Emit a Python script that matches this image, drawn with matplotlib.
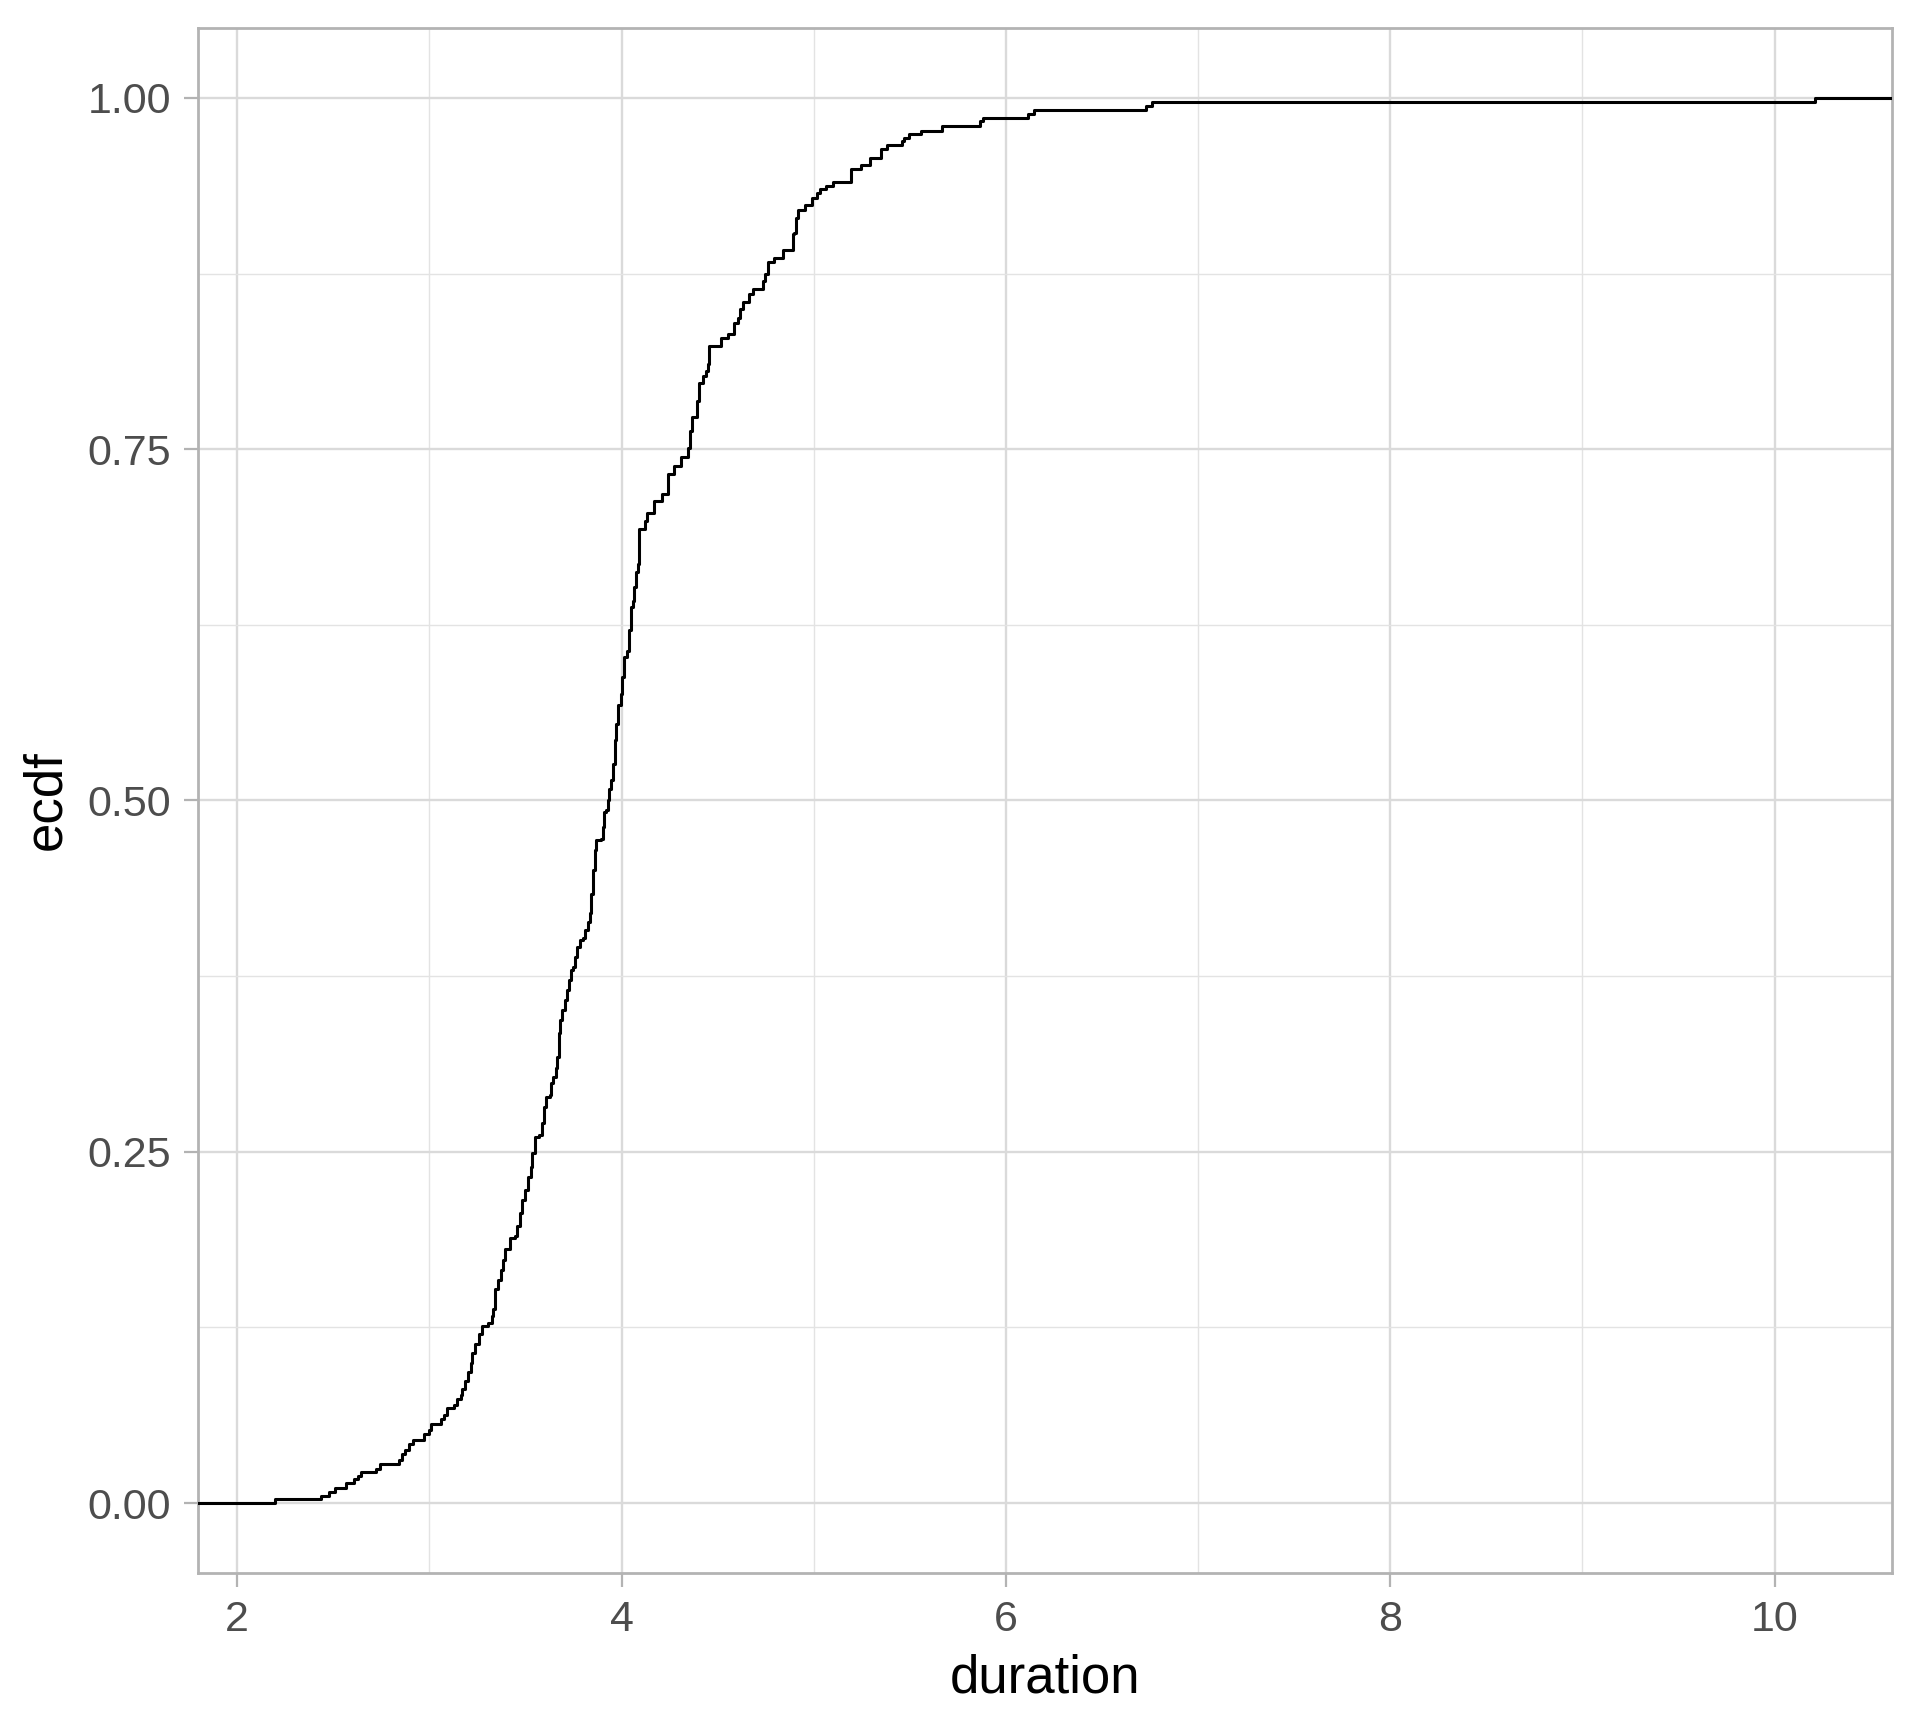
import numpy as np
import matplotlib
matplotlib.use("Agg")
import matplotlib.pyplot as plt
from matplotlib.ticker import MultipleLocator

plt.rcParams['font.family'] = ['Liberation Sans', 'DejaVu Sans']

# ECDF knots: at each duration the curve steps up to ecdf
duration = [
    2.195, 2.437, 2.476, 2.507, 2.565, 2.607, 2.626, 2.643, 2.723, 2.745,
    2.842, 2.856, 2.873, 2.891, 2.913, 2.972, 2.995, 3.008, 3.060, 3.076,
    3.090, 3.130, 3.142, 3.164, 3.171, 3.185, 3.199, 3.216, 3.223, 3.237,
    3.258, 3.275, 3.303, 3.323, 3.332, 3.341, 3.355, 3.372, 3.384, 3.393,
    3.419, 3.444, 3.453, 3.470, 3.483, 3.496, 3.514, 3.528, 3.535, 3.548,
    3.569, 3.587, 3.597, 3.609, 3.626, 3.635, 3.644, 3.656, 3.666, 3.673,
    3.678, 3.691, 3.704, 3.718, 3.725, 3.735, 3.748, 3.756, 3.768, 3.782,
    3.800, 3.808, 3.826, 3.834, 3.843, 3.851, 3.860, 3.869, 3.891, 3.903,
    3.909, 3.921, 3.929, 3.935, 3.947, 3.955, 3.964, 3.972, 3.981, 3.995,
    4.002, 4.012, 4.030, 4.036, 4.047, 4.059, 4.064, 4.076, 4.085, 4.090,
    4.123, 4.133, 4.166, 4.210, 4.241, 4.270, 4.310, 4.348, 4.358, 4.366,
    4.393, 4.405, 4.423, 4.440, 4.452, 4.457, 4.518, 4.556, 4.587, 4.604,
    4.618, 4.630, 4.661, 4.682, 4.734, 4.746, 4.760, 4.791, 4.838, 4.890,
    4.898, 4.907, 4.919, 4.954, 4.989, 5.016, 5.032, 5.063, 5.098, 5.193,
    5.245, 5.293, 5.348, 5.380, 5.461, 5.470, 5.495, 5.560, 5.669, 5.864,
    5.882, 6.113, 6.148, 6.730, 6.759, 10.21,
]
ecdf = [
    0.003, 0.005, 0.008, 0.011, 0.014, 0.017, 0.019, 0.022, 0.024, 0.028,
    0.031, 0.035, 0.038, 0.042, 0.045, 0.049, 0.052, 0.056, 0.060, 0.063,
    0.068, 0.070, 0.074, 0.077, 0.081, 0.087, 0.093, 0.100, 0.107, 0.113,
    0.120, 0.126, 0.128, 0.133, 0.138, 0.152, 0.159, 0.166, 0.173, 0.181,
    0.1886, 0.1898, 0.1969, 0.2064, 0.2158, 0.2230, 0.2324, 0.2395, 0.2490, 0.2608,
    0.2620, 0.2704, 0.2822, 0.2893, 0.2905, 0.2988, 0.3035, 0.3094, 0.3177, 0.3343,
    0.3438, 0.3509, 0.3580, 0.3651, 0.3722, 0.3793, 0.3817, 0.3888, 0.3959, 0.4006,
    0.4018, 0.4077, 0.4136, 0.4196, 0.4338, 0.4504, 0.4646, 0.4717, 0.4729, 0.4812,
    0.4918, 0.4930, 0.5001, 0.5085, 0.5144, 0.5262, 0.5428, 0.5546, 0.5677, 0.5760,
    0.5878, 0.6020, 0.6067, 0.6210, 0.6375, 0.6423, 0.6517, 0.6624, 0.6684, 0.6932,
    0.6990, 0.7043, 0.7129, 0.7181, 0.7323, 0.7382, 0.7441, 0.7512, 0.7631, 0.7726,
    0.7844, 0.7974, 0.8022, 0.8058, 0.8105, 0.8235, 0.8294, 0.8323, 0.8401, 0.8436,
    0.8496, 0.8550, 0.8603, 0.8638, 0.8697, 0.8745, 0.8834, 0.8859, 0.8915, 0.9029,
    0.9040, 0.9147, 0.9200, 0.9237, 0.9289, 0.9325, 0.9349, 0.9370, 0.9403, 0.9491,
    0.9521, 0.9574, 0.9633, 0.9664, 0.9692, 0.9716, 0.9744, 0.9768, 0.9799, 0.9834,
    0.9858, 0.9882, 0.9913, 0.9941, 0.9970, 1.0,
]

x_ticks = [2, 4, 6, 8, 10]
y_ticks = [0.0, 0.25, 0.5, 0.75, 1.0]
y_tick_labels = ["0.00", "0.25", "0.50", "0.75", "1.00"]

# ggplot style 5% expansion of the data range
span = max(duration) - min(duration)
x_lo = min(duration) - 0.05 * span
x_hi = max(duration) + 0.05 * span

# pad the step line out to the panel edges, like stat_ecdf(pad = TRUE)
xs = [x_lo] + duration + [x_hi]
ys = [0.0] + ecdf + [1.0]

fig = plt.figure(figsize=(9.6, 8.64), dpi=200)
ax = fig.add_axes([0.103, 0.0895, 0.8824, 0.8945])

ax.step(xs, ys, where='post', color='black', linewidth=1.1, zorder=3)

ax.set_xlim(x_lo, x_hi)
ax.set_ylim(-0.05, 1.05)

ax.set_xticks(x_ticks)
ax.set_yticks(y_ticks)
ax.set_yticklabels(y_tick_labels)
ax.xaxis.set_minor_locator(MultipleLocator(1))
ax.yaxis.set_minor_locator(MultipleLocator(0.125))

# theme_light look
ax.grid(which='major', color='#DADADA', linewidth=0.85)
ax.grid(which='minor', color='#E3E3E3', linewidth=0.5)
ax.set_axisbelow(True)
for sp in ax.spines.values():
    sp.set_color('#B3B3B3')
    sp.set_linewidth(1.0)

ax.tick_params(which='major', length=5, width=0.8, color='#B3B3B3',
               labelsize=15.5, labelcolor='#4D4D4D', pad=4.5)
ax.tick_params(which='minor', length=0)

ax.set_xlabel('duration', fontsize=19, color='black', labelpad=5)
ax.set_ylabel('ecdf', fontsize=19, color='black', labelpad=6)

fig.savefig('out.png', dpi=200, facecolor='white')
